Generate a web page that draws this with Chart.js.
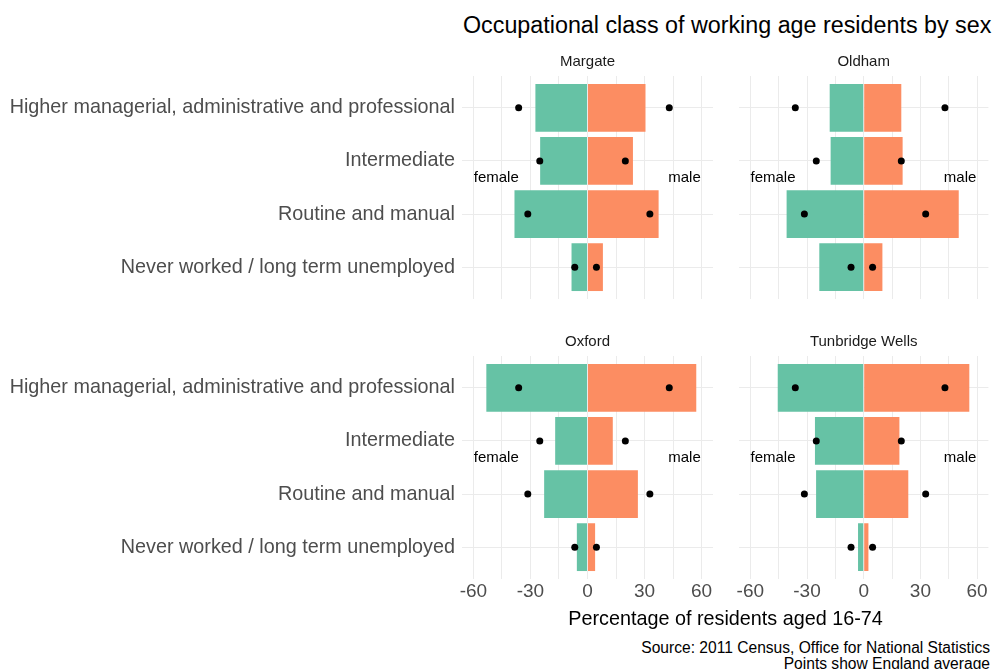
<!DOCTYPE html>
<html>
<head>
<meta charset="utf-8">
<script src="https://cdn.jsdelivr.net/npm/chart.js@4.4.1/dist/chart.umd.min.js"></script>
<style>
body { margin: 0; background: #fff; font-family: "Liberation Sans", Arial, sans-serif; }
#wrap { position: relative; width: 996px; height: 669px; overflow: hidden; }
canvas { position: absolute; }
.txt { position: absolute; white-space: nowrap; line-height: 1; }
#title { left: 463px; top: 14px; font-size: 23.3px; color: #000; }
#xtitle { left: 462px; width: 527px; text-align: center; top: 609px; font-size: 19.8px; color: #000; }
#cap1 { right: 6px; top: 640px; font-size: 15.6px; color: #000; }
#cap2 { right: 6px; top: 656px; font-size: 15.6px; color: #000; }
</style>
</head>
<body>
<div id="wrap">
  <div class="txt" id="title">Occupational class of working age residents by sex</div>
  <canvas id="c0" width="720" height="279" style="left:0;top:40px"></canvas>
  <canvas id="c1" width="266" height="279" style="left:730px;top:40px"></canvas>
  <canvas id="c2" width="720" height="290" style="left:0;top:320px"></canvas>
  <canvas id="c3" width="266" height="290" style="left:730px;top:320px"></canvas>
  <div class="txt" id="xtitle">Percentage of residents aged 16-74</div>
  <div class="txt" id="cap1">Source: 2011 Census, Office for National Statistics</div>
  <div class="txt" id="cap2">Points show England average</div>
</div>
<script>
/* data */
var categories = [
  'Higher managerial, administrative and professional',
  'Intermediate',
  'Routine and manual',
  'Never worked / long term unemployed'
];
var areas = ['Margate', 'Oldham', 'Oxford', 'Tunbridge Wells'];

var femaleMargate = [-27.4, -24.9, -38.4, -8.4];
var maleMargate   = [30.5, 23.9, 37.4, 8.1];
var femaleOldham  = [-18.0, -17.5, -40.8, -23.5];
var maleOldham    = [19.9, 20.6, 50.3, 9.9];
var femaleOxford  = [-53.2, -17.0, -22.8, -5.6];
var maleOxford    = [57.2, 13.3, 26.5, 4.0];
var femaleTunbridge = [-45.5, -25.8, -25.2, -3.0];
var maleTunbridge   = [55.9, 18.9, 23.6, 2.5];

var englandFemale = [-36.2, -25.1, -31.4, -6.7];
var englandMale   = [43.0, 19.9, 32.8, 4.7];

var xTicks = [-60, -30, 0, 30, 60];

var femaleData = [femaleMargate, femaleOldham, femaleOxford, femaleTunbridge];
var maleData = [maleMargate, maleOldham, maleOxford, maleTunbridge];

var FONT = '"Liberation Sans", Arial, sans-serif';
var GRID = '#ebebeb';

function pts(vals) {
  return vals.map(function(v, i) { return { x: v, y: i }; });
}

/* panel title + female/male labels */
var panelText = {
  id: 'panelText',
  afterDraw: function(chart) {
    var o = chart.options.plugins.panelText;
    var ctx = chart.ctx, a = chart.chartArea;
    var xs = chart.scales.x, ys = chart.scales.y;
    ctx.save();
    ctx.textAlign = 'center';
    ctx.textBaseline = 'middle';
    ctx.fillStyle = '#1a1a1a';
    ctx.font = '15px ' + FONT;
    ctx.fillText(o.name, (a.left + a.right) / 2, a.top - 14);
    ctx.fillStyle = '#000';
    ctx.font = '15px ' + FONT;
    ctx.fillText('female', xs.getPixelForValue(-48), ys.getPixelForValue(1.32));
    ctx.fillText('male', xs.getPixelForValue(51), ys.getPixelForValue(1.32));
    ctx.restore();
  }
};

function makePanel(id, k, showY, showX) {
  var ctx = document.getElementById(id).getContext('2d');
  return new Chart(ctx, {
    type: 'bar',
    data: {
      datasets: [{
        label: 'female',
        data: pts(femaleData[k]),
        backgroundColor: '#66c2a5',
        grouped: false,
        order: 2
      }, {
        label: 'male',
        data: pts(maleData[k]),
        backgroundColor: '#fc8d62',
        grouped: false,
        order: 2
      }, {
        type: 'scatter',
        label: 'England female',
        data: pts(englandFemale),
        backgroundColor: '#000',
        borderWidth: 0,
        pointRadius: 3.5,
        order: 1
      }, {
        type: 'scatter',
        label: 'England male',
        data: pts(englandMale),
        backgroundColor: '#000',
        borderWidth: 0,
        pointRadius: 3.5,
        order: 1
      }]
    },
    options: {
      indexAxis: 'y',
      responsive: false,
      animation: false,
      categoryPercentage: 1,
      barPercentage: 0.9,
      layout: {
        padding: { top: 36, right: showY ? 7 : 7.6, bottom: showX ? 0 : 20, left: 0 }
      },
      plugins: {
        legend: { display: false },
        tooltip: { enabled: false },
        panelText: { name: areas[k] }
      },
      scales: {
        x: {
          type: 'linear',
          min: -66,
          max: 66,
          offset: false,
          border: { display: false },
          grid: { color: GRID, lineWidth: 1, drawTicks: false, offset: false },
          afterBuildTicks: function(s) {
            s.ticks = [-60, -45, -30, -15, 0, 15, 30, 45, 60].map(function(v) { return { value: v }; });
          },
          afterFit: function(s) { s.height = showX ? 31 : 0; },
          ticks: {
            display: showX,
            maxRotation: 0,
            autoSkip: false,
            padding: 1,
            color: '#4d4d4d',
            font: { family: FONT, size: 19 },
            callback: function(v) { return xTicks.indexOf(v) >= 0 ? String(v) : ''; }
          }
        },
        y: {
          type: 'linear',
          reverse: true,
          min: -0.6,
          max: 3.6,
          offset: false,
          border: { display: false },
          grid: { color: GRID, lineWidth: 1, drawTicks: false, offset: false },
          afterBuildTicks: function(s) {
            s.ticks = categories.map(function(c, i) { return { value: i }; });
          },
          afterFit: function(s) { s.width = showY ? 462 : 9; },
          ticks: {
            display: showY,
            autoSkip: false,
            padding: 7,
            color: '#4d4d4d',
            font: { family: FONT, size: 19.8 },
            callback: function(v) { return categories[v]; }
          }
        }
      }
    },
    plugins: [panelText]
  });
}

makePanel('c0', 0, true, false);
makePanel('c1', 1, false, false);
makePanel('c2', 2, true, true);
makePanel('c3', 3, false, true);
</script>
</body>
</html>
